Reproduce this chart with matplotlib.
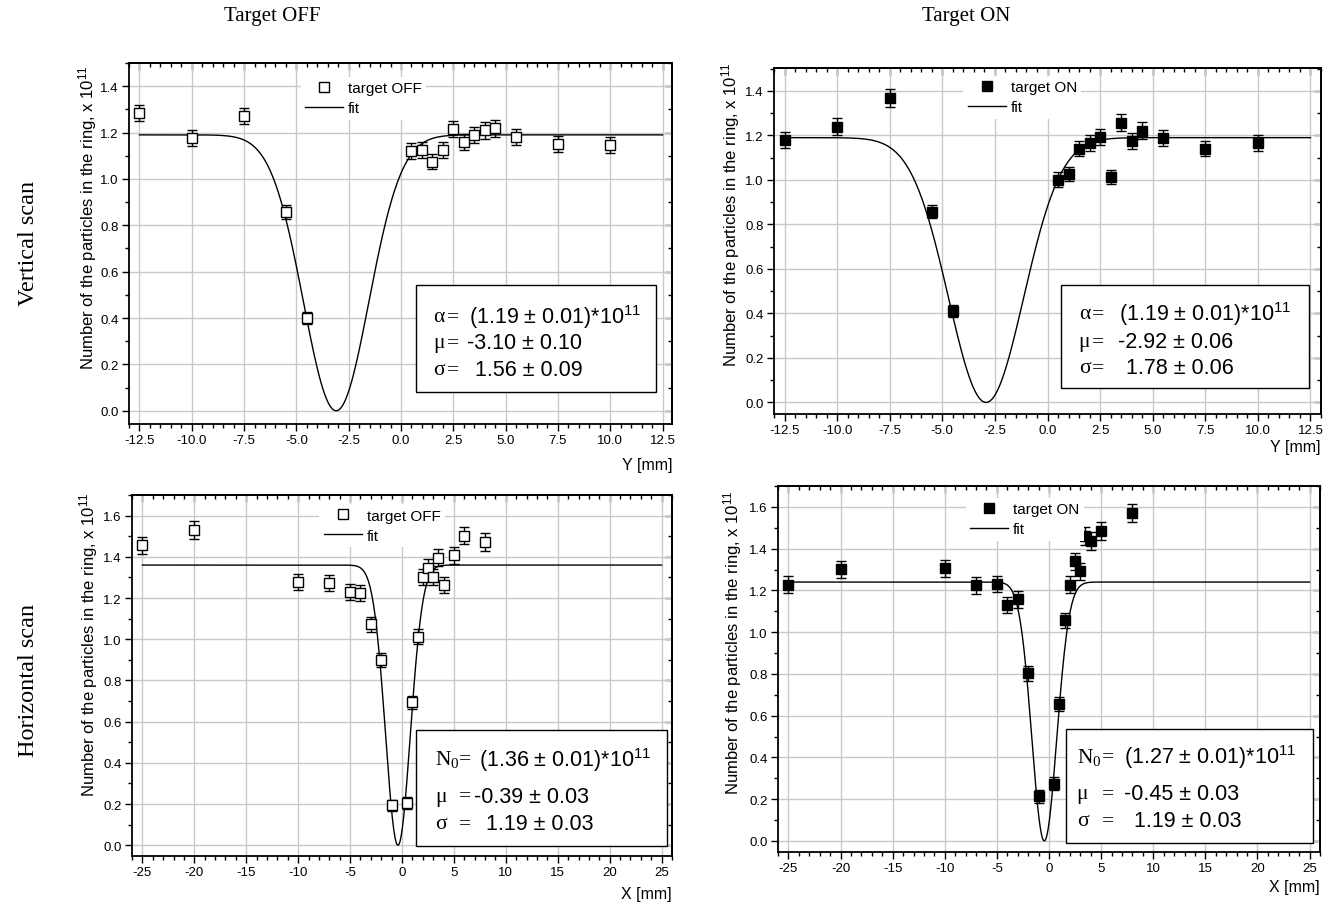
import numpy as np
import matplotlib.pyplot as plt
from matplotlib.ticker import MultipleLocator, FormatStrFormatter
from matplotlib.patches import Rectangle
from matplotlib.lines import Line2D

plt.rcParams['font.family'] = ['Liberation Sans', 'DejaVu Sans']
plt.rcParams['mathtext.default'] = 'regular'
plt.rcParams['axes.unicode_minus'] = False
SERIF = ['Liberation Serif', 'DejaVu Serif']

# vertical scan (Y, mm)
v_pos = [-12.5, -10.0, -7.5, -5.5, -4.5, 0.5, 1.0, 1.5, 2.0, 2.5, 3.0, 3.5, 4.0, 4.5, 5.5, 7.5, 10.0]
v_off = [1.284, 1.175, 1.271, 0.858, 0.400, 1.119, 1.125, 1.075, 1.125, 1.215, 1.159, 1.189, 1.209, 1.218, 1.182, 1.151, 1.147]
v_off_err = [0.036, 0.035, 0.036, 0.030, 0.026, 0.035, 0.035, 0.033, 0.035, 0.036, 0.035, 0.035, 0.036, 0.036, 0.035, 0.034, 0.034]
v_on = [1.181, 1.240, 1.369, 0.858, 0.409, 1.001, 1.027, 1.141, 1.165, 1.193, 1.013, 1.258, 1.174, 1.222, 1.190, 1.141, 1.165]
v_on_err = [0.036, 0.037, 0.040, 0.030, 0.027, 0.033, 0.033, 0.035, 0.035, 0.036, 0.033, 0.038, 0.035, 0.037, 0.036, 0.035, 0.035]

# horizontal scan (X, mm)
h_off_pos = [-25, -20, -10, -7, -5, -4, -3, -2, -1, 0.5, 1.0, 1.5, 2.0, 2.5, 3.0, 3.5, 4.0, 5.0, 6.0, 8.0]
h_off = [1.455, 1.529, 1.277, 1.274, 1.229, 1.226, 1.073, 0.898, 0.194, 0.206, 0.694, 1.013, 1.302, 1.347, 1.303, 1.395, 1.261, 1.408, 1.503, 1.473]
h_off_err = [0.042, 0.043, 0.040, 0.040, 0.039, 0.039, 0.036, 0.033, 0.028, 0.028, 0.032, 0.036, 0.040, 0.041, 0.040, 0.042, 0.039, 0.042, 0.043, 0.043]
h_on_pos = [-25, -20, -10, -7, -5, -4, -3, -2, -1, 0.5, 1.0, 1.5, 2.0, 2.5, 3.0, 3.5, 4.0, 5.0, 8.0]
h_on = [1.227, 1.302, 1.306, 1.224, 1.230, 1.128, 1.157, 0.802, 0.214, 0.275, 0.654, 1.056, 1.227, 1.339, 1.291, 1.462, 1.435, 1.483, 1.571]
h_on_err = [0.040, 0.041, 0.041, 0.040, 0.040, 0.038, 0.039, 0.035, 0.030, 0.030, 0.034, 0.038, 0.040, 0.041, 0.040, 0.043, 0.043, 0.044, 0.045]

# gaussian dip fits: plateau, mu, sigma
fit_level = [1.19, 1.19, 1.36, 1.24]
fit_mu = [-3.10, -2.92, -0.39, -0.45]
fit_sigma = [1.56, 1.78, 1.19, 1.19]

box_sym = [['α', 'μ', 'σ'], ['α', 'μ', 'σ'], ['N$_0$', 'μ', 'σ'], ['N$_0$', 'μ', 'σ']]
box_val = [['(1.19 ± 0.01)*10$^{11}$', '-3.10 ± 0.10', '1.56 ± 0.09'],
           ['(1.19 ± 0.01)*10$^{11}$', '-2.92 ± 0.06', '1.78 ± 0.06'],
           ['(1.36 ± 0.01)*10$^{11}$', '-0.39 ± 0.03', '1.19 ± 0.03'],
           ['(1.27 ± 0.01)*10$^{11}$', '-0.45 ± 0.03', '1.19 ± 0.03']]

W, H = 1342, 912
fig = plt.figure(figsize=(W / 100, H / 100), dpi=100)


def px_axes(l, t, r, b):
    return fig.add_axes([l / W, 1 - b / H, (r - l) / W, (b - t) / H])


panels = [
    dict(rect=(129, 64, 672, 425), x=v_pos, y=v_off, e=v_off_err, filled=False, label='target OFF',
         xlim=(-13, 12.95), ylim=(-0.057, 1.5), xr=(-12.5, 12.5), xmaj=2.5, xmin=0.5, xfmt='%.1f',
         xlabel='Y [mm]', xl_y=-0.111, yl=(-0.0755, 0.573),
         leg=(0.316, 0.962), box=(0.529, 0.088, 0.971, 0.385),
         sx=0.560, ex=0.586, vx=[0.626, 0.623, 0.637], ly=[0.298, 0.225, 0.152]),
    dict(rect=(774, 69, 1321, 415), x=v_pos, y=v_on, e=v_on_err, filled=True, label='target ON',
         xlim=(-13, 13), ylim=(-0.052, 1.503), xr=(-12.5, 12.5), xmaj=2.5, xmin=0.5, xfmt='%.1f',
         xlabel='Y [mm]', xl_y=-0.095, yl=(-0.0786, 0.578),
         leg=(0.346, 0.978), box=(0.525, 0.074, 0.978, 0.373),
         sx=0.557, ex=0.582, vx=[0.630, 0.628, 0.643], ly=[0.291, 0.209, 0.134]),
    dict(rect=(132, 496, 672, 857), x=h_off_pos, y=h_off, e=h_off_err, filled=False, label='target OFF',
         xlim=(-26, 26), ylim=(-0.052, 1.70), xr=(-25, 25), xmaj=5, xmin=1, xfmt='%d',
         xlabel='X [mm]', xl_y=-0.105, yl=(-0.081, 0.587),
         leg=(0.347, 0.975), box=(0.526, 0.028, 0.990, 0.350),
         sx=0.561, ex=0.606, vx=[0.642, 0.634, 0.656], ly=[0.269, 0.166, 0.091]),
    dict(rect=(778, 487, 1320, 853), x=h_on_pos, y=h_on, e=h_on_err, filled=True, label='target ON',
         xlim=(-26, 26), ylim=(-0.053, 1.70), xr=(-25, 25), xmaj=5, xmin=1, xfmt='%d',
         xlabel='X [mm]', xl_y=-0.093, yl=(-0.083, 0.576),
         leg=(0.346, 0.968), box=(0.531, 0.025, 0.987, 0.336),
         sx=0.551, ex=0.597, vx=[0.638, 0.638, 0.657], ly=[0.262, 0.160, 0.087]),
]

for i, p in enumerate(panels):
    ax = px_axes(*p['rect'])
    ax.set_xlim(*p['xlim'])
    ax.set_ylim(*p['ylim'])
    ax.set_axisbelow(True)
    ax.grid(True, which='major', color='#c8c8c8', lw=1.0)

    fc = 'black' if p['filled'] else 'white'
    ax.errorbar(p['x'], p['y'], yerr=p['e'], fmt='s', ms=7, mfc=fc, mec='black', mew=1.0,
                ecolor='black', elinewidth=1.0, capsize=3.5, capthick=1.0, zorder=3)

    xs = np.linspace(p['xr'][0], p['xr'][1], 800)
    fit = fit_level[i] * (1 - np.exp(-(xs - fit_mu[i]) ** 2 / (2 * fit_sigma[i] ** 2)))
    ax.plot(xs, fit, color='black', lw=1.0, zorder=2)

    # ticks: outward on bottom/left, inward on top/right
    ax.xaxis.set_major_locator(MultipleLocator(p['xmaj']))
    ax.xaxis.set_minor_locator(MultipleLocator(p['xmin']))
    ax.xaxis.set_major_formatter(FormatStrFormatter(p['xfmt']))
    ax.yaxis.set_major_locator(MultipleLocator(0.2))
    ax.yaxis.set_minor_locator(MultipleLocator(0.1))
    ax.yaxis.set_major_formatter(FormatStrFormatter('%.1f'))
    ax.tick_params(which='major', direction='out', length=5, width=1.0, labelsize=9.5, pad=2.5)
    ax.tick_params(which='minor', direction='out', length=3, width=1.0)

    top = ax.secondary_xaxis('top')
    top.xaxis.set_major_locator(MultipleLocator(p['xmaj']))
    top.xaxis.set_minor_locator(MultipleLocator(p['xmin']))
    top.tick_params(which='major', direction='in', length=5, width=1.0, labeltop=False)
    top.tick_params(which='minor', direction='in', length=3, width=1.0)
    right = ax.secondary_yaxis('right')
    right.yaxis.set_major_locator(MultipleLocator(0.2))
    right.yaxis.set_minor_locator(MultipleLocator(0.1))
    right.tick_params(which='major', direction='in', length=5, width=1.0, labelright=False)
    right.tick_params(which='minor', direction='in', length=3, width=1.0)
    for s in list(ax.spines.values()) + [top.spines['top'], right.spines['right']]:
        s.set_linewidth(1.3)

    ax.set_ylabel('Number of the particles in the ring, x 10$^{11}$', fontsize=12, va='center')
    ax.yaxis.set_label_coords(*p['yl'])
    ax.set_xlabel(p['xlabel'], fontsize=11.5, ha='right', va='center')
    ax.xaxis.set_label_coords(1.0, p['xl_y'])

    h_mark = Line2D([], [], marker='s', ls='none', ms=7, mfc=fc, mec='black', mew=1.0)
    h_line = Line2D([], [], color='black', lw=1.0)
    ax.legend([h_mark, h_line], [p['label'], 'fit'], loc='upper left', bbox_to_anchor=p['leg'],
              frameon=True, facecolor='white', edgecolor='none', framealpha=1, fancybox=False,
              fontsize=11, handlelength=2.5, handletextpad=0.3, labelspacing=0.4,
              borderpad=0.3, borderaxespad=0)

    bx0, by0, bx1, by1 = p['box']
    ax.add_patch(Rectangle((bx0, by0), bx1 - bx0, by1 - by0, transform=ax.transAxes,
                           facecolor='white', edgecolor='black', lw=1.0, zorder=4))
    for k in range(3):
        ax.text(p['sx'], p['ly'][k], box_sym[i][k], transform=ax.transAxes, family=SERIF,
                fontsize=15.5, va='center', ha='left', zorder=5)
        ax.text(p['ex'], p['ly'][k], '=', transform=ax.transAxes, family=SERIF,
                fontsize=15.5, va='center', ha='left', zorder=5)
        ax.text(p['vx'][k], p['ly'][k], box_val[i][k], transform=ax.transAxes,
                fontsize=15.5, va='center', ha='left', zorder=5)

fig.text(272 / W, 1 - 16 / H, 'Target OFF', family=SERIF, fontsize=15, ha='center', va='center')
fig.text(966 / W, 1 - 16 / H, 'Target ON', family=SERIF, fontsize=15, ha='center', va='center')
fig.text(28 / W, 1 - 243 / H, 'Vertical scan', family=SERIF, fontsize=17.5, rotation=90,
         ha='center', va='center')
fig.text(28 / W, 1 - 680 / H, 'Horizontal scan', family=SERIF, fontsize=17.5, rotation=90,
         ha='center', va='center')

fig.savefig('out.png', dpi=100, facecolor='white')
